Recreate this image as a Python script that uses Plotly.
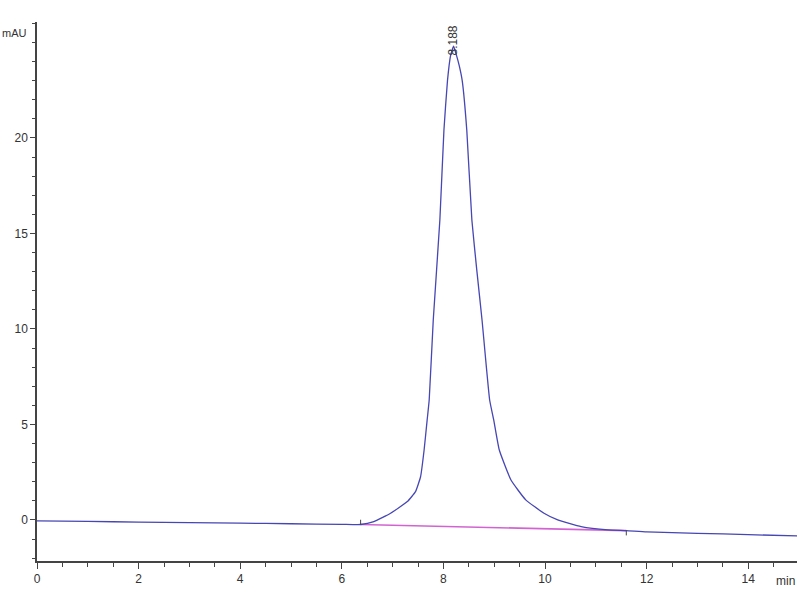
import plotly.graph_objects as go

# Chromatogram signal (time in min, absorbance in mAU)
times = [0, 1, 2, 3, 4, 5, 6, 6.37, 6.63, 6.96, 7.29, 7.45, 7.55, 7.62, 7.68,
         7.72, 7.80, 7.93, 8.01, 8.08, 8.14, 8.20, 8.26, 8.31, 8.37, 8.46, 8.56,
         8.66, 8.76, 8.91, 8.99, 9.10, 9.33, 9.62, 9.98, 10.25, 10.71, 11.24,
         11.6, 12, 13, 14, 15]
signal = [-0.05, -0.08, -0.11, -0.14, -0.17, -0.20, -0.23, -0.24, -0.09, 0.35,
          0.96, 1.48, 2.26, 3.66, 5.24, 6.28, 10.47, 15.7, 20.4, 23.0, 24.3,
          24.8, 24.3, 23.8, 23.0, 20.4, 15.7, 13.0, 10.47, 6.28, 5.24, 3.66,
          2.09, 1.05, 0.35, 0.0, -0.35, -0.52, -0.56, -0.63, -0.70, -0.77, -0.84]

# Integration baseline (start/end)
base_t = [6.37, 11.6]
base_v = [-0.24, -0.56]

# Peak label
peak_t = 8.188
peak_label = "8.188"

x_ticks = [0, 2, 4, 6, 8, 10, 12, 14]
y_ticks = [0, 5, 10, 15, 20]

blue = "#4646b4"
magenta = "#d264d2"
axis_col = "#444444"
font_fam = "Liberation Sans, Arial"

fig = go.Figure()
fig.add_trace(go.Scatter(x=base_t, y=base_v, mode="lines",
                         line=dict(color=magenta, width=1.6),
                         hoverinfo="skip", showlegend=False))
fig.add_trace(go.Scatter(x=times, y=signal, mode="lines",
                         line=dict(color=blue, width=1.3, shape="spline", smoothing=0.4),
                         showlegend=False))
# small event marks at integration start/end
fig.add_trace(go.Scatter(x=[base_t[0], base_t[0], None, base_t[1], base_t[1]],
                         y=[base_v[0], base_v[0] + 0.25, None, base_v[1], base_v[1] - 0.25],
                         mode="lines", line=dict(color=axis_col, width=1),
                         hoverinfo="skip", showlegend=False))

fig.add_annotation(x=peak_t, y=25.1, text=peak_label, textangle=-90,
                   showarrow=False, xanchor="center", yanchor="middle",
                   font=dict(family=font_fam, size=12, color="#333333"))
fig.add_annotation(x=0, y=1, xref="paper", yref="paper", text="mAU",
                   showarrow=False, xanchor="right", yanchor="middle",
                   xshift=-8, yshift=-11,
                   font=dict(family=font_fam, size=11, color="#333333"))
fig.add_annotation(x=1, y=0, xref="paper", yref="paper", text="min",
                   showarrow=False, xanchor="right", yanchor="top",
                   xshift=0, yshift=-11,
                   font=dict(family=font_fam, size=12, color="#333333"))

fig.update_xaxes(range=[0, 14.96], tickvals=x_ticks, ticks="outside", ticklen=6,
                 tickcolor=axis_col, showline=True, linecolor=axis_col, linewidth=1.5,
                 showgrid=False, zeroline=False, automargin=False,
                 minor=dict(dtick=0.5, ticks="outside", ticklen=4, tickcolor=axis_col),
                 tickfont=dict(family=font_fam, size=12, color="#333333"))
fig.update_yaxes(range=[-2.15, 26.07], tickvals=y_ticks, ticks="outside", ticklen=5,
                 tickcolor=axis_col, showline=True, linecolor=axis_col, linewidth=1.5,
                 showgrid=False, zeroline=False, automargin=False,
                 minor=dict(dtick=1, ticks="outside", ticklen=3, tickcolor=axis_col),
                 tickfont=dict(family=font_fam, size=12, color="#333333"))

fig.update_layout(width=800, height=600, plot_bgcolor="white", paper_bgcolor="white",
                  margin=dict(l=37, r=3, t=22, b=39, autoexpand=False), showlegend=False)

# remove the default page margin so the 800x600 figure fills the window exactly
fig.write_html("out.html", config={"displayModeBar": False},
               post_script="document.body.style.margin='0';document.body.style.overflow='hidden';")
